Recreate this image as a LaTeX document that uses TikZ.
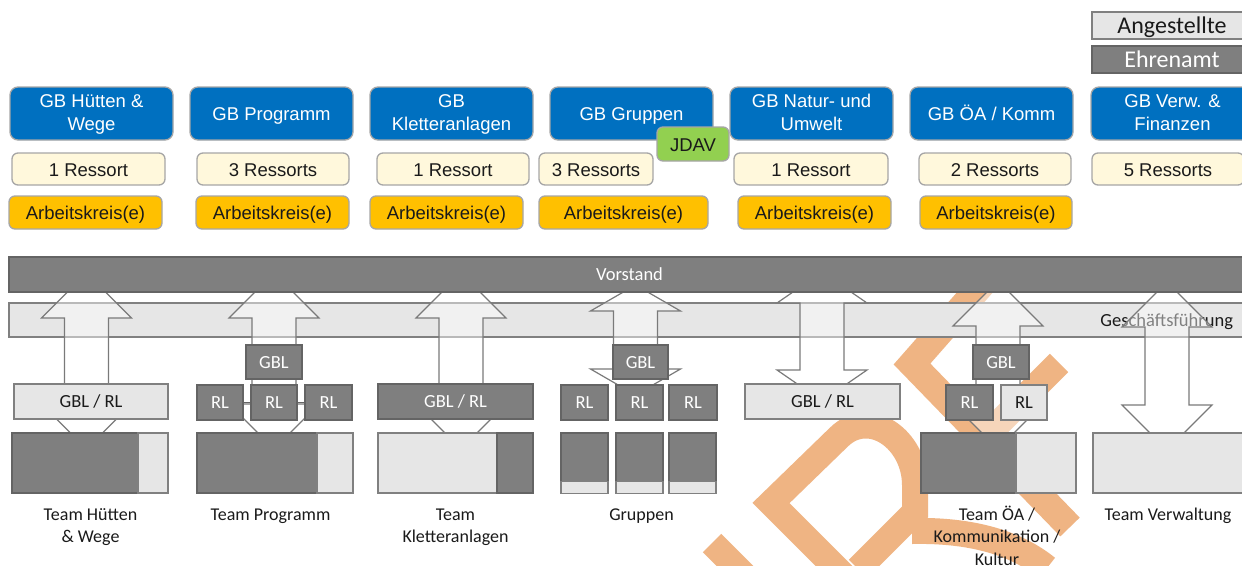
\documentclass[tikz,border=0pt]{standalone}
\usepackage{fontspec}
\newfontfamily\arialf{Liberation Sans}
\newfontfamily\calf{Carlito}
\definecolor{gbblue}{HTML}{0070C0}
\definecolor{boxedge}{HTML}{A6A6A6}
\definecolor{rescream}{HTML}{FFF8DC}
\definecolor{akorange}{HTML}{FFC000}
\definecolor{jdavgreen}{HTML}{92D050}
\definecolor{dgray}{HTML}{7F7F7F}
\definecolor{lgray}{HTML}{E6E6E6}
\definecolor{dedge}{HTML}{646464}
\definecolor{ledge}{HTML}{808080}
\definecolor{arrowedge}{HTML}{7A7A7A}
\definecolor{wmorange}{HTML}{EFB483}
\definecolor{ink}{HTML}{1A1A1A}

% double block arrow: centre x, top tip, top head base, bottom head base, bottom tip
\newcommand\dblarrow[5]{%
  \draw[blockarrow] (#1,#2) -- ({#1+45},#3) -- ({#1+22},#3) -- ({#1+22},#4)
    -- ({#1+45},#4) -- (#1,#5) -- ({#1-45},#4) -- ({#1-22},#4)
    -- ({#1-22},#3) -- ({#1-45},#3) -- cycle;}

\tikzset{
  every node/.style={inner sep=0pt, outer sep=0pt},
  topfont/.style={font=\arialf\fontsize{18.5}{23}\selectfont},
  gbbox/.style={rectangle, rounded corners=8, fill=gbblue, draw=boxedge, line width=1.3,
    text=white, topfont, minimum width=163, minimum height=53, align=center,
    text height=13, text depth=0},
  twolines/.style={text height=34, text depth=0},
  resbox/.style={rectangle, rounded corners=6, fill=rescream, draw=boxedge, line width=1.3,
    text=ink, topfont, minimum height=32, text height=14.5, text depth=0},
  akbox/.style={rectangle, rounded corners=6, fill=akorange, draw=boxedge, line width=1.3,
    text=ink, topfont, minimum height=33, text height=14.5, text depth=0},
  jdavbox/.style={rectangle, rounded corners=6, fill=jdavgreen, draw=boxedge, line width=1.3,
    text=ink, topfont, minimum width=72, minimum height=34, text height=15, text depth=0},
  darkbox/.style={rectangle, fill=dgray, draw=dedge, line width=1.2, text=white,
    font=\calf\fontsize{18.5}{23}\selectfont, text height=12.5, text depth=0},
  lightbox/.style={rectangle, fill=lgray, draw=ledge, line width=1.2, text=ink,
    font=\calf\fontsize{18.5}{23}\selectfont, text height=12.5, text depth=0},
  legendtext/.style={font=\calf\fontsize{24}{28}\selectfont, text height=16.5, text depth=0},
  blockarrow/.style={fill=white, fill opacity=0.45, draw=arrowedge, line width=1.2, line join=miter},
  teamlabel/.style={font=\calf\fontsize{18}{22.5}\selectfont, text=ink, anchor=base, align=center},
  wm/.style={draw=wmorange, line width=26, line cap=butt, line join=miter},
}

\begin{document}
\begin{tikzpicture}[x=1pt,y=-1pt]
\useasboundingbox (0,0) rectangle (1242,565);
\clip (0,0) rectangle (1242,565);
\fill[white] (0,0) rectangle (1242,565);

% watermark strokes in the background
\draw[wm, line width=27] (984,282) -- (912,364) -- (1070,527);
\draw[wm] (1059,363) -- (950,472);
\draw[wm] (858,569) -- (915,512) -- (915,485) .. controls (915,440) and (870,407) .. (839,437) -- (771,503) -- (845,577);
\draw[wm] (912,531) .. controls (960,530) and (1010,538) .. (1047,568);
\draw[wm] (712,543) -- (750,581);

% legend
\node[lightbox, legendtext, minimum width=160, minimum height=27] (angest) at (1172,25.5) {Angestellte};
\node[darkbox, legendtext, minimum width=160, minimum height=27] (ehren) at (1172,59.5) {Ehrenamt};

% Geschaeftsbereiche
\node[gbbox, twolines] (gb1) at (91.5,113.5) {GB Hütten \&\\Wege};
\node[gbbox] (gb2) at (271.5,113.5) {GB Programm};
\node[gbbox, twolines] (gb3) at (451.5,113.5) {GB\\Kletteranlagen};
\node[gbbox] (gb4) at (631.5,113.5) {GB Gruppen};
\node[gbbox, twolines] (gb5) at (811.5,113.5) {GB Natur- und\\Umwelt};
\node[gbbox] (gb6) at (991.5,113.5) {GB ÖA / Komm};
\node[gbbox, twolines] (gb7) at (1172.5,113.5) {GB Verw. \&\\Finanzen};
\node[jdavbox] (jdav) at (693,144) {JDAV};

% Ressorts
\node[resbox, minimum width=153] (res1) at (88.5,169) {1 Ressort};
\node[resbox, minimum width=152] (res2) at (273,169) {3 Ressorts};
\node[resbox, minimum width=152] (res3) at (453,169) {1 Ressort};
\node[resbox, minimum width=114] (res4) at (596,169) {3 Ressorts};
\node[resbox, minimum width=154] (res5) at (811,169) {1 Ressort};
\node[resbox, minimum width=152] (res6) at (995,169) {2 Ressorts};
\node[resbox, minimum width=152] (res7) at (1168,169) {5 Ressorts};

% Arbeitskreise
\node[akbox, minimum width=153] (ak1) at (85.5,212.5) {Arbeitskreis(e)};
\node[akbox, minimum width=153] (ak2) at (272.5,212.5) {Arbeitskreis(e)};
\node[akbox, minimum width=153] (ak3) at (446.5,212.5) {Arbeitskreis(e)};
\node[akbox, minimum width=169] (ak4) at (623.5,212.5) {Arbeitskreis(e)};
\node[akbox, minimum width=153] (ak5) at (814.5,212.5) {Arbeitskreis(e)};
\node[akbox, minimum width=152] (ak6) at (996,212.5) {Arbeitskreis(e)};

% Geschaeftsfuehrung bar
\node[lightbox, minimum width=1241, minimum height=34] (gf) at (629.5,320) {};
\node[font=\calf\fontsize{18.5}{23}\selectfont, text=ink, anchor=east, text height=12.5, text depth=0] (gftext) at (1233,320.5) {Geschäftsführung};

% block arrows between Vorstand and the teams
\dblarrow{86.5}{273}{318}{404}{449}
\dblarrow{274}{273}{318}{404}{449}
\dblarrow{461}{273}{318}{404}{449}
\dblarrow{635.5}{285}{311}{369}{395}
\dblarrow{822}{272}{303}{370}{401}
\dblarrow{998}{281}{326}{404}{449}
\dblarrow{1167}{282}{327}{405}{450}

% Vorstand bar
\node[darkbox, minimum width=1241, minimum height=35] (vs) at (629.5,274.5) {Vorstand};

% leads
\node[lightbox, minimum width=154, minimum height=35] (l1) at (91,401.5) {GBL / RL};

\node[darkbox, minimum width=56, minimum height=34] (g2) at (274,362) {GBL};
\node[darkbox, minimum width=46, minimum height=35] (r2a) at (220,402.5) {RL};
\node[darkbox, minimum width=46, minimum height=35] (r2b) at (274,402.5) {RL};
\node[darkbox, minimum width=47, minimum height=35] (r2c) at (328.5,402.5) {RL};
\draw[dedge, line width=1.2] (r2a.east) -- (r2b.west);
\draw[dedge, line width=1.2] (r2b.east) -- (r2c.west);

\node[darkbox, minimum width=155, minimum height=35] (l3) at (455.5,401.5) {GBL / RL};

\node[darkbox, minimum width=55, minimum height=34] (g4) at (640.5,362) {GBL};
\node[darkbox, minimum width=47, minimum height=35] (r4a) at (584.5,402.5) {RL};
\node[darkbox, minimum width=47, minimum height=35] (r4b) at (639.5,402.5) {RL};
\node[darkbox, minimum width=48, minimum height=35] (r4c) at (693,402.5) {RL};

\node[lightbox, minimum width=155, minimum height=35] (l5) at (822.5,401.5) {GBL / RL};

\node[darkbox, minimum width=56, minimum height=34] (g6) at (1001,362) {GBL};
\node[darkbox, minimum width=47, minimum height=35] (r6a) at (969.5,402.5) {RL};
\node[lightbox, minimum width=46, minimum height=35] (r6b) at (1024,402.5) {RL};

% teams
\node[darkbox, minimum width=126, minimum height=60] (t1a) at (75,463) {};
\node[lightbox, minimum width=30, minimum height=60] (t1b) at (153,463) {};

\node[darkbox, minimum width=120, minimum height=60] (t2a) at (257,463) {};
\node[lightbox, minimum width=36, minimum height=60] (t2b) at (335,463) {};

\node[lightbox, minimum width=119, minimum height=60] (t3a) at (437.5,463) {};
\node[darkbox, minimum width=36, minimum height=60] (t3b) at (515,463) {};

\node[darkbox, minimum width=47, minimum height=49] (t4a) at (584.5,457.5) {};
\node[lightbox, minimum width=47, minimum height=11] (t4b) at (584.5,487.5) {};
\node[darkbox, minimum width=47, minimum height=49] (t4c) at (639.5,457.5) {};
\node[lightbox, minimum width=47, minimum height=11] (t4d) at (639.5,487.5) {};
\node[darkbox, minimum width=47, minimum height=49] (t4e) at (692.5,457.5) {};
\node[lightbox, minimum width=47, minimum height=11] (t4f) at (692.5,487.5) {};

\node[darkbox, minimum width=95, minimum height=60] (t6a) at (968.5,463) {};
\node[lightbox, minimum width=60, minimum height=60] (t6b) at (1046,463) {};

\node[lightbox, minimum width=157, minimum height=60] (t7) at (1171.5,463) {};

% team captions (base anchor sits on the last line)
\node[teamlabel] (c1) at (90.5,542.5) {Team Hütten\\\& Wege};
\node[teamlabel] (c2) at (270.5,520) {Team Programm};
\node[teamlabel] (c3) at (455.5,542.5) {Team\\Kletteranlagen};
\node[teamlabel] (c4) at (641.5,520) {Gruppen};
\node[teamlabel] (c6) at (997,565) {Team ÖA /\\Kommunikation /\\Kultur};
\node[teamlabel] (c7) at (1168,520) {Team Verwaltung};
\end{tikzpicture}
\end{document}
